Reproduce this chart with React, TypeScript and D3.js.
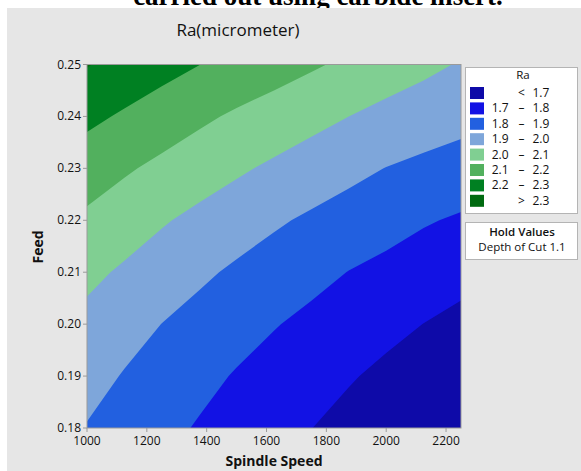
import * as d3 from 'd3';

// grid (rows top -> bottom, feed 0.25 .. 0.18)
const speeds = [1000, 1125, 1250, 1375, 1500, 1625, 1750, 1875, 2000, 2125, 2250];
const feeds = [0.25, 0.24, 0.23, 0.22, 0.21, 0.2, 0.19, 0.18];
const raGrid = [
  [2.305, 2.267, 2.234, 2.201, 2.171, 2.142, 2.112, 2.082, 2.052, 2.022, 1.993],
  [2.222, 2.188, 2.153, 2.118, 2.086, 2.058, 2.029, 2.0, 1.972, 1.951, 1.933],
  [2.149, 2.112, 2.078, 2.046, 2.014, 1.984, 1.955, 1.926, 1.898, 1.878, 1.857],
  [2.082, 2.046, 2.009, 1.976, 1.945, 1.913, 1.885, 1.859, 1.834, 1.808, 1.789],
  [2.022, 1.987, 1.952, 1.917, 1.885, 1.856, 1.827, 1.798, 1.776, 1.754, 1.732],
  [1.975, 1.937, 1.899, 1.868, 1.836, 1.805, 1.778, 1.752, 1.725, 1.699, 1.673],
  [1.935, 1.894, 1.86, 1.826, 1.793, 1.765, 1.736, 1.708, 1.68, 1.651, 1.623],
  [1.895, 1.86, 1.826, 1.792, 1.762, 1.732, 1.701, 1.671, 1.641, 1.611, 1.581],
];
const thresholds = [1.7, 1.8, 1.9, 2.0, 2.1, 2.2, 2.3];
const bandColors = ['#0e0aa8', '#1212e4', '#2260e0', '#7ea6da', '#80cf92', '#52b05e', '#008022', '#006a10'];
const legendLabels = [
  ['', '<', '1.7'],
  ['1.7', '–', '1.8'],
  ['1.8', '–', '1.9'],
  ['1.9', '–', '2.0'],
  ['2.0', '–', '2.1'],
  ['2.1', '–', '2.2'],
  ['2.2', '–', '2.3'],
  ['', '>', '2.3'],
];
const xTicks = [1000, 1200, 1400, 1600, 1800, 2000, 2200];
const yTicks = [0.18, 0.19, 0.2, 0.21, 0.22, 0.23, 0.24, 0.25];

const W = 581;
const H = 471;
const font = '"Open Sans", "Noto Sans", sans-serif';

export default function App() {
  const x = d3.scaleLinear().domain([1000, 2250]).range([87, 461]);
  const y = d3.scaleLinear().domain([0.18, 0.25]).range([428, 64.5]);

  // d3.contours puts grid values at cell centres
  const gx = d3.scaleLinear().domain([0.5, speeds.length - 0.5]).range([x(speeds[0]), x(speeds[speeds.length - 1])]);
  const gy = d3.scaleLinear().domain([0.5, feeds.length - 0.5]).range([y(feeds[0]), y(feeds[feeds.length - 1])]);

  const values = raGrid.flat();
  const contours = d3.contours().size([speeds.length, feeds.length]).thresholds(thresholds)(values);
  const path = d3.geoPath(
    d3.geoTransform({
      point(px: number, py: number) {
        this.stream.point(gx(px), gy(py));
      },
    })
  );

  const [x0, x1] = x.range();
  const [y0, y1] = y.range();
  const legendRow = (i: number) => 93 + i * 15.4;

  return (
    <svg width={W} height={H} style={{ position: 'absolute', left: 0, top: 0 }}>
      <rect x={0} y={0} width={W} height={H} fill="#fff" />
      <text x={318} y={5} textAnchor="middle" fontFamily='"Liberation Serif", serif' fontWeight="bold" fontSize={27}>
        carried out using carbide insert.
      </text>
      <rect x={7} y={8} width={W - 7} height={H - 8} fill="#e6e6e6" />
      <text x={238} y={36} textAnchor="middle" fontFamily={font} fontSize={17} fill="#111">
        Ra(micrometer)
      </text>

      <defs>
        <clipPath id="plot-clip">
          <rect x={x0} y={y1} width={x1 - x0} height={y0 - y1} />
        </clipPath>
      </defs>
      <g clipPath="url(#plot-clip)">
        <rect x={x0} y={y1} width={x1 - x0} height={y0 - y1} fill={bandColors[0]} />
        {contours.map((c, i) => (
          <path key={i} d={path(c as any) || ''} fill={bandColors[i + 1]} />
        ))}
      </g>
      <rect x={x0} y={y1} width={x1 - x0} height={y0 - y1} fill="none" stroke="#9a9a9a" />

      {/* x axis */}
      {xTicks.map((t) => (
        <g key={t}>
          <line x1={x(t)} x2={x(t)} y1={y0} y2={y0 + 4} stroke="#9a9a9a" />
          <text x={x(t)} y={445} textAnchor="middle" fontFamily={font} fontSize={12} fill="#111">
            {t}
          </text>
        </g>
      ))}
      <text x={274} y={466} textAnchor="middle" fontFamily={font} fontSize={14} fontWeight="bold" fill="#111">
        Spindle Speed
      </text>

      {/* y axis */}
      {yTicks.map((t) => (
        <g key={t}>
          <line x1={x0 - 4} x2={x0} y1={y(t)} y2={y(t)} stroke="#9a9a9a" />
          <text x={81} y={y(t) + 4} textAnchor="end" fontFamily={font} fontSize={12} fill="#111">
            {t.toFixed(2)}
          </text>
        </g>
      ))}
      <text
        transform="translate(43,247) rotate(-90)"
        textAnchor="middle"
        fontFamily={font}
        fontSize={14}
        fontWeight="bold"
        fill="#111"
      >
        Feed
      </text>

      {/* legend */}
      <rect x={465.5} y={67.5} width={112} height={146} fill="#fff" stroke="#b4b4b4" />
      <text x={523} y={79} textAnchor="middle" fontFamily={font} fontSize={11.5} fill="#111">
        Ra
      </text>
      {legendLabels.map((lab, i) => (
        <g key={i}>
          <rect x={470} y={legendRow(i) - 6} width={14} height={12} fill={bandColors[i]} />
          <text x={508.5} y={legendRow(i) + 4} textAnchor="end" fontFamily={font} fontSize={12} fill="#111">
            {lab[0]}
          </text>
          <text x={521.5} y={legendRow(i) + 4} textAnchor="middle" fontFamily={font} fontSize={12} fill="#111">
            {lab[1]}
          </text>
          <text x={532.5} y={legendRow(i) + 4} fontFamily={font} fontSize={12} fill="#111">
            {lab[2]}
          </text>
        </g>
      ))}

      <rect x={465.5} y={222.5} width={112} height={37} fill="#fff" stroke="#b4b4b4" />
      <text x={522} y={236} textAnchor="middle" fontFamily={font} fontSize={11.5} fontWeight="600" fill="#111">
        Hold Values
      </text>
      <text x={522} y={251} textAnchor="middle" fontFamily={font} fontSize={11.5} fill="#111">
        Depth of Cut  1.1
      </text>
    </svg>
  );
}
